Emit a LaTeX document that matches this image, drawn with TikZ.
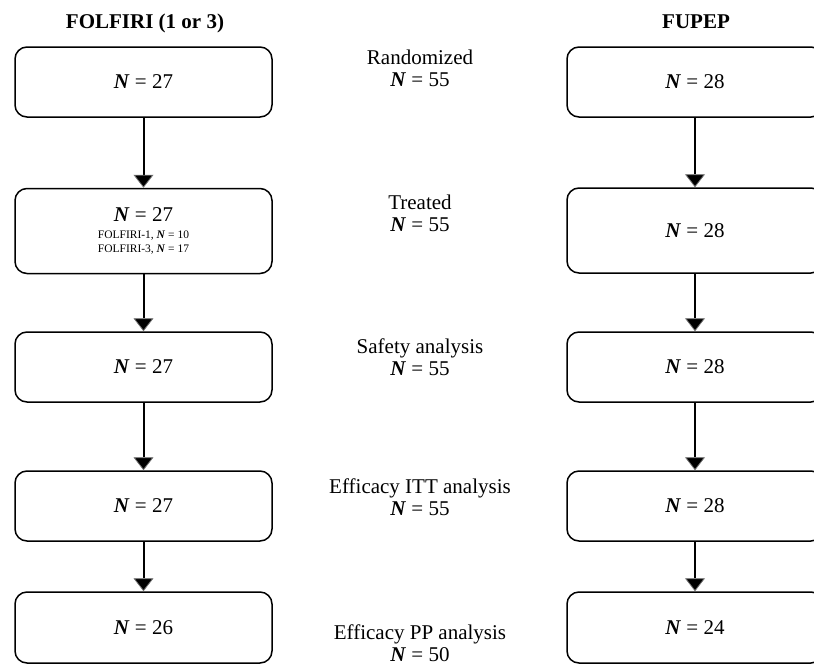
\documentclass[tikz,border=0pt]{standalone}
\usepackage{fontspec}
\setmainfont{Liberation Serif}
\usetikzlibrary{arrows.meta}
\newcommand{\NN}{\textbf{\textit{N}}}
\begin{document}
\begin{tikzpicture}[x=1pt,y=-1pt,
  box/.style={draw, line width=1.5pt, rounded corners=12pt, minimum width=257pt, inner sep=0pt, align=center, font=\fontsize{21}{24}\selectfont},
  lbl/.style={align=center, font=\fontsize{21}{22}\selectfont, inner sep=0pt},
  hdr/.style={font=\fontsize{21}{24}\selectfont\bfseries, inner sep=0pt},
  arr/.style={line width=2pt, -{Triangle[width=20pt,length=13pt,fill=black,color=black!55,line width=0.8pt]}}]
\clip (0,0) rectangle (814,667);
% headers
\node[hdr] (h1) at (145,23) {FOLFIRI (1 or 3)};
\node[hdr] (h2) at (696,22) {FUPEP};
% left column
\node[box, minimum height=70pt] (l1) at (143.5,82) {\NN{} = 27};
\node[box, minimum height=85pt] (l2) at (143.5,231) {\NN{} = 27\\[-7pt]{\fontsize{11.5}{13.5}\selectfont FOLFIRI-1, \NN{} = 10}\\[-10pt]{\fontsize{11.5}{13.5}\selectfont FOLFIRI-3, \NN{} = 17}};
\node[box, minimum height=70pt] (l3) at (143.5,367) {\NN{} = 27};
\node[box, minimum height=70pt] (l4) at (143.5,506) {\NN{} = 27};
\node[box, minimum height=71pt] (l5) at (143.5,627.5) {\NN{} = 26};
% right column
\node[box, minimum width=256pt, minimum height=70pt] (r1) at (695,82) {\NN{} = 28};
\node[box, minimum width=256pt, minimum height=85pt] (r2) at (695,230.5) {\NN{} = 28};
\node[box, minimum width=256pt, minimum height=70pt] (r3) at (695,367) {\NN{} = 28};
\node[box, minimum width=256pt, minimum height=70pt] (r4) at (695,506) {\NN{} = 28};
\node[box, minimum width=256pt, minimum height=71pt] (r5) at (695,627.5) {\NN{} = 24};
% middle labels
\node[lbl] (m1) at (420,68.5) {Randomized\\\NN{} = 55};
\node[lbl] (m2) at (420,213) {Treated\\\NN{} = 55};
\node[lbl] (m3) at (420,357) {Safety analysis\\\NN{} = 55};
\node[lbl] (m4) at (420,497.5) {Efficacy ITT analysis\\\NN{} = 55};
\node[lbl] (m5) at (420,643) {Efficacy PP analysis\\\NN{} = 50};
% arrows
\draw[arr] (l1.south) -- (l2.north);
\draw[arr] (l2.south) -- (l3.north);
\draw[arr] (l3.south) -- (l4.north);
\draw[arr] (l4.south) -- (l5.north);
\draw[arr] (r1.south) -- (r2.north);
\draw[arr] (r2.south) -- (r3.north);
\draw[arr] (r3.south) -- (r4.north);
\draw[arr] (r4.south) -- (r5.north);
\end{tikzpicture}
\end{document}
